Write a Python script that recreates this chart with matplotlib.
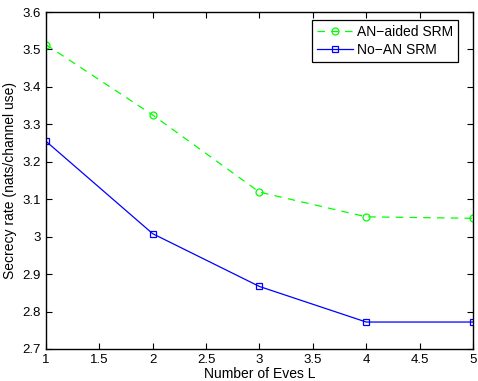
import numpy as np
import matplotlib
matplotlib.use("Agg")
import matplotlib.pyplot as plt

plt.rcParams['font.family'] = ['Liberation Sans', 'DejaVu Sans']

eves = [1, 2, 3, 4, 5]
an_aided = [3.513, 3.325, 3.119, 3.053, 3.049]
no_an = [3.255, 3.008, 2.867, 2.772, 2.772]

fig = plt.figure(figsize=(4.78, 3.81), dpi=100)
ax = fig.add_axes([0.096, 0.084, 0.8935, 0.8845])

ax.plot(eves, an_aided, color=(0, 1, 0), linestyle=(0, (6, 5)), linewidth=0.9,
        marker='o', markersize=5, markerfacecolor='none', markeredgewidth=0.9,
        label='AN\u2212aided SRM')
ax.plot(eves, no_an, color=(0, 0, 1), linestyle='-', linewidth=0.9,
        marker='s', markersize=4.5, markerfacecolor='none', markeredgewidth=0.9,
        label='No\u2212AN SRM')

ax.set_xlim(1, 5)
ax.set_ylim(2.7, 3.6)
ax.set_xticks(np.arange(1, 5.01, 0.5))
ax.set_xticklabels(['1', '1.5', '2', '2.5', '3', '3.5', '4', '4.5', '5'])
ax.set_yticks(np.arange(2.7, 3.61, 0.1))
ax.set_yticklabels(['2.7', '2.8', '2.9', '3', '3.1', '3.2', '3.3', '3.4', '3.5', '3.6'])
ax.tick_params(direction='in', top=True, right=True, length=4, labelsize=9.5, width=0.8)
for s in ax.spines.values():
    s.set_linewidth(1.0)

ax.set_xlabel('Number of Eves L', fontsize=10, labelpad=1)
ax.set_ylabel('Secrecy rate (nats/channel use)', fontsize=10, labelpad=4)

leg = ax.legend(loc='upper right', bbox_to_anchor=(0.965, 0.976), fontsize=10,
                fancybox=False, framealpha=1, edgecolor='black', borderpad=0.35,
                handlelength=2.6, handletextpad=0.3, labelspacing=0.3,
                borderaxespad=0)
leg.get_frame().set_linewidth(0.9)

fig.savefig('out.png', dpi=100)
